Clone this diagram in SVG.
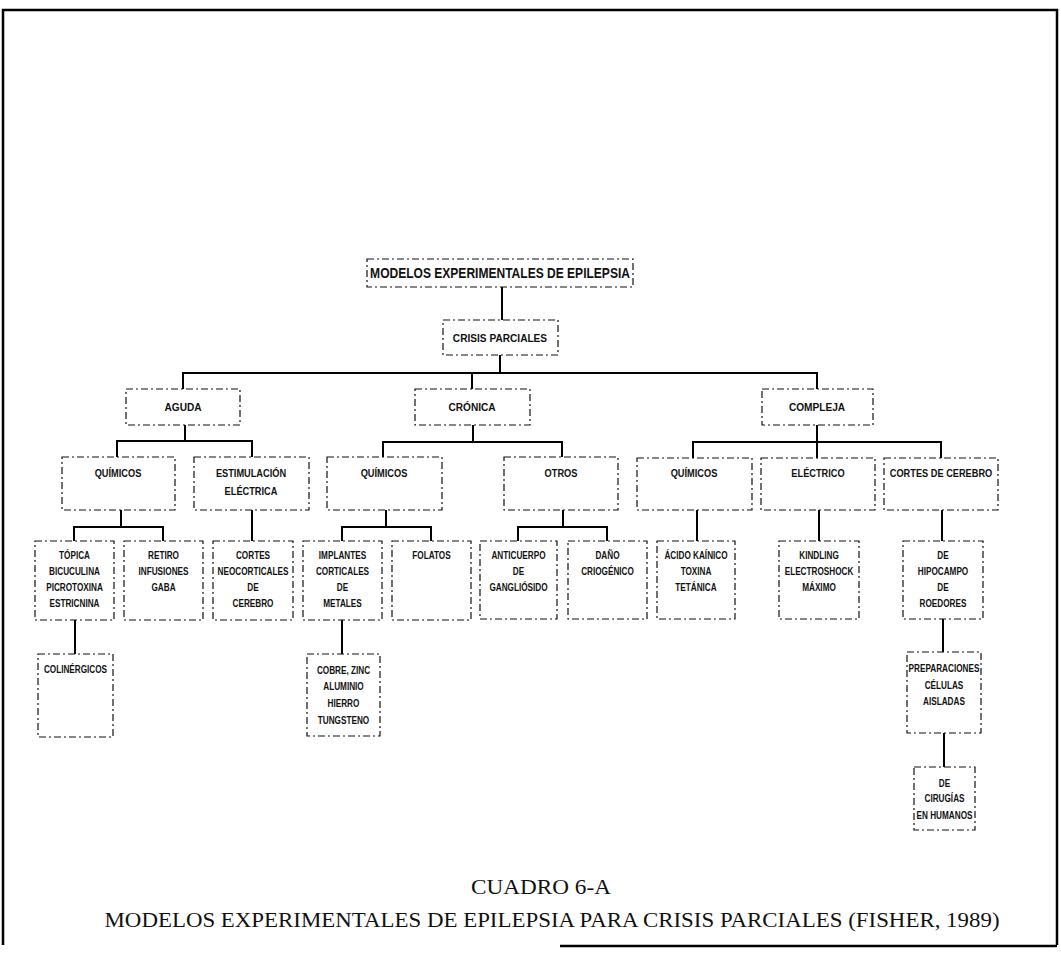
<svg xmlns="http://www.w3.org/2000/svg" width="1061" height="959" viewBox="0 0 1061 959">
<style>
.bx{fill:none;stroke:#111;stroke-width:1.2;stroke-dasharray:7 3 2 3}
.cn{fill:none;stroke:#000;stroke-width:2}
.fr{fill:none;stroke:#000;stroke-width:2.5}
text{font-family:"Liberation Sans",Arial,sans-serif;font-weight:bold;fill:#111;text-anchor:middle;transform-box:fill-box;transform-origin:center}
.t0{font-size:14px;transform:scaleX(0.86)}
.t1{font-size:11.5px;transform:scaleX(0.88)}
.t2{font-size:10.5px;transform:scaleX(0.88)}
.t3{font-size:10.5px;transform:scaleX(0.78)}
.cap{font-family:"Liberation Serif","Times New Roman",serif;font-weight:normal;font-size:21px;transform:none}
</style>
<rect width="1061" height="959" fill="#fff"/>
<g id="frame">
<path class="fr" d="M3,945 V10 H1057 V945"/>
<path class="fr" d="M560,946 H1057"/>
</g>
<g id="connectors">
<path class="cn" d="M502,287 V320"/>
<path class="cn" d="M500,355 V373 M183,389 V373 H817 V389 M472,373 V389"/>
<path class="cn" d="M185,425 V441 M117,457 V441 H252 V457"/>
<path class="cn" d="M473,425 V442 M383,457 V442 H562 V457"/>
<path class="cn" d="M817,425 V458 M693,458 V442 H941 V458"/>
<path class="cn" d="M121,510 V527 M74,541 V527 H163 V541"/>
<path class="cn" d="M252,510 V541"/>
<path class="cn" d="M386,510 V527 M342,541 V527 H431 V541"/>
<path class="cn" d="M563,510 V527 M518,541 V527 H607 V541"/>
<path class="cn" d="M697,510 V541 M819,510 V541 M942,510 V541"/>
<path class="cn" d="M75,620 V654 M342,620 V654 M943,619 V652 M944,733 V767"/>
</g>
<g id="n-title"><rect class="bx" x="367" y="259" width="266" height="28"/><text class="t0" x="500" y="278">MODELOS EXPERIMENTALES DE EPILEPSIA</text></g>
<g id="n-crisis"><rect class="bx" x="443" y="320" width="115" height="35"/><text class="t1" x="500" y="342">CRISIS PARCIALES</text></g>
<g id="n-aguda"><rect class="bx" x="126" y="389" width="114" height="36"/><text class="t1" x="183" y="411">AGUDA</text></g>
<g id="n-cronica"><rect class="bx" x="415" y="389" width="115" height="36"/><text class="t1" x="472" y="411">CRÓNICA</text></g>
<g id="n-compleja"><rect class="bx" x="762" y="389" width="111" height="36"/><text class="t1" x="817" y="411">COMPLEJA</text></g>
<g id="n-quim-a"><rect class="bx" x="62" y="457" width="113" height="53"/><text class="t2" x="118" y="477">QUÍMICOS</text></g>
<g id="n-estim"><rect class="bx" x="194" y="457" width="115" height="53"/><text class="t2" x="251" y="477">ESTIMULACIÓN</text><text class="t2" x="251" y="495">ELÉCTRICA</text></g>
<g id="n-quim-c"><rect class="bx" x="327" y="457" width="115" height="53"/><text class="t2" x="384" y="477">QUÍMICOS</text></g>
<g id="n-otros"><rect class="bx" x="504" y="457" width="114" height="53"/><text class="t2" x="561" y="477">OTROS</text></g>
<g id="n-quim-x"><rect class="bx" x="637" y="458" width="115" height="52"/><text class="t2" x="694" y="477">QUÍMICOS</text></g>
<g id="n-electrico"><rect class="bx" x="761" y="458" width="114" height="52"/><text class="t2" x="818" y="477">ELÉCTRICO</text></g>
<g id="n-cortes"><rect class="bx" x="884" y="458" width="114" height="52"/><text class="t2" x="941" y="477">CORTES DE CEREBRO</text></g>
<g id="n-topica"><rect class="bx" x="35" y="541" width="79" height="79"/><text class="t3" x="74.5" y="559">TÓPICA</text><text class="t3" x="74.5" y="575">BICUCULINA</text><text class="t3" x="74.5" y="591">PICROTOXINA</text><text class="t3" x="74.5" y="607">ESTRICNINA</text></g>
<g id="n-retiro"><rect class="bx" x="124" y="541" width="79" height="79"/><text class="t3" x="163.5" y="559">RETIRO</text><text class="t3" x="163.5" y="575">INFUSIONES</text><text class="t3" x="163.5" y="591">GABA</text></g>
<g id="n-neocort"><rect class="bx" x="213" y="541" width="80" height="79"/><text class="t3" x="253" y="559">CORTES</text><text class="t3" x="253" y="575">NEOCORTICALES</text><text class="t3" x="253" y="591">DE</text><text class="t3" x="253" y="607">CEREBRO</text></g>
<g id="n-implantes"><rect class="bx" x="303" y="541" width="79" height="79"/><text class="t3" x="342.5" y="559">IMPLANTES</text><text class="t3" x="342.5" y="575">CORTICALES</text><text class="t3" x="342.5" y="591">DE</text><text class="t3" x="342.5" y="607">METALES</text></g>
<g id="n-folatos"><rect class="bx" x="392" y="541" width="79" height="79"/><text class="t3" x="431.5" y="559">FOLATOS</text></g>
<g id="n-anticuerpo"><rect class="bx" x="480" y="541" width="77" height="78"/><text class="t3" x="518.5" y="559">ANTICUERPO</text><text class="t3" x="518.5" y="575">DE</text><text class="t3" x="518.5" y="591">GANGLIÓSIDO</text></g>
<g id="n-dano"><rect class="bx" x="568" y="541" width="79" height="78"/><text class="t3" x="607.5" y="559">DAÑO</text><text class="t3" x="607.5" y="575">CRIOGÉNICO</text></g>
<g id="n-kainico"><rect class="bx" x="657" y="541" width="78" height="78"/><text class="t3" x="696" y="559">ÁCIDO KAÍNICO</text><text class="t3" x="696" y="575">TOXINA</text><text class="t3" x="696" y="591">TETÁNICA</text></g>
<g id="n-kindling"><rect class="bx" x="779" y="541" width="80" height="78"/><text class="t3" x="819" y="559">KINDLING</text><text class="t3" x="819" y="575">ELECTROSHOCK</text><text class="t3" x="819" y="591">MÁXIMO</text></g>
<g id="n-hipocampo"><rect class="bx" x="903" y="541" width="80" height="78"/><text class="t3" x="943" y="559">DE</text><text class="t3" x="943" y="575">HIPOCAMPO</text><text class="t3" x="943" y="591">DE</text><text class="t3" x="943" y="607">ROEDORES</text></g>
<g id="n-colinergicos"><rect class="bx" x="38" y="654" width="75" height="83"/><text class="t3" x="75.5" y="673">COLINÉRGICOS</text></g>
<g id="n-cobre"><rect class="bx" x="307" y="654" width="73" height="82"/><text class="t3" x="343.5" y="674">COBRE, ZINC</text><text class="t3" x="343.5" y="690">ALUMINIO</text><text class="t3" x="343.5" y="707">HIERRO</text><text class="t3" x="343.5" y="724">TUNGSTENO</text></g>
<g id="n-preparaciones"><rect class="bx" x="907" y="652" width="74" height="81"/><text class="t3" x="944" y="672">PREPARACIONES</text><text class="t3" x="944" y="689">CÉLULAS</text><text class="t3" x="944" y="705">AISLADAS</text></g>
<g id="n-cirugias"><rect class="bx" x="914" y="767" width="61" height="63"/><text class="t3" x="944.5" y="787">DE</text><text class="t3" x="944.5" y="802">CIRUGÍAS</text><text class="t3" x="944.5" y="819">EN HUMANOS</text></g>
<g id="caption">
<text class="cap" x="541" y="894" font-size="22" textLength="140" lengthAdjust="spacingAndGlyphs">CUADRO 6-A</text>
<text class="cap" x="552" y="927" textLength="895" lengthAdjust="spacingAndGlyphs">MODELOS EXPERIMENTALES DE EPILEPSIA PARA CRISIS PARCIALES (FISHER, 1989)</text>
</g>
</svg>
